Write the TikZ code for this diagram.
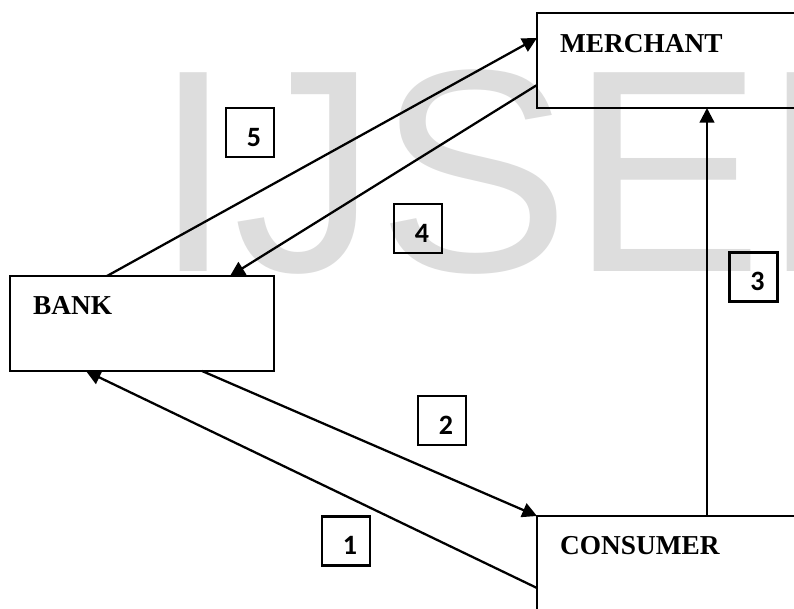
\documentclass[tikz,border=0pt]{standalone}
\usepackage{fontspec}
\setmainfont{Liberation Serif}
\newfontfamily\marksans{Liberation Sans}
\newfontfamily\numfont{Carlito}
\usetikzlibrary{arrows.meta,calc}
\definecolor{wmark}{HTML}{DDDDDD}
\begin{document}
\begin{tikzpicture}[x=0.75pt, y=-0.75pt, >={Triangle[length=11pt,width=11pt]}, line width=1.7pt,
    party/.style={draw, inner sep=0, outer sep=0, anchor=north west, minimum height=71.25pt},
    tag/.style={font=\bfseries\fontsize{20.5}{24}\selectfont, anchor=base west, inner sep=0},
    numbox/.style={draw, inner sep=0, outer sep=0, minimum width=36pt, minimum height=36.75pt,
        label={[font=\numfont\bfseries\fontsize{21}{24}\selectfont, xshift=3pt, yshift=-3.5pt]center:#1}}]
    \clip (0,0) rectangle (794,609);
    % watermark
    \node[font=\marksans\fontsize{216.75}{217}\selectfont, text=wmark, anchor=base west, inner sep=0] (wm) at (152,272) {IJSER};
    % the three parties
    \node[party, minimum width=225pt] (merchant) at (537,13) {};
    \node[party, minimum width=198pt] (bank) at (10,276) {};
    \node[party, minimum width=225pt, minimum height=90pt] (consumer) at (537,516) {};
    \node[tag] (mtag) at ($(merchant.north west)+(22,40)$) {MERCHANT};
    \node[tag] (btag) at ($(bank.north west)+(22,39)$) {BANK};
    \node[tag] (ctag) at ($(consumer.north west)+(22,39)$) {CONSUMER};
    % flows
    \draw[->] ($(consumer.north west)+(0,72)$) -- ($(bank.south west)+(76,0)$);
    \draw[->] ($(bank.south west)+(192,0)$) -- (consumer.north west);
    \draw[->] ($(consumer.north west)+(170,0)$) -- ($(merchant.south west)+(170,0)$);
    \draw[->] ($(merchant.north west)+(0,72)$) -- ($(bank.north west)+(220,0)$);
    \draw[->] ($(bank.north west)+(97,0)$) -- ($(merchant.north west)+(0,25)$);
    % step numbers
    \node[numbox=1] (n1) at (346,541) {};
    \node[numbox=2] (n2) at (442,420.5) {};
    \node[numbox=3] (n3) at (753.5,277) {};
    \node[numbox=4] (n4) at (418,228.5) {};
    \node[numbox=5] (n5) at (250,132.5) {};
\end{tikzpicture}
\end{document}
